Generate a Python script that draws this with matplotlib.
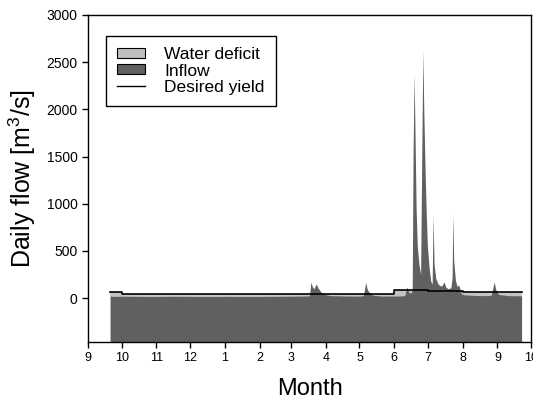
import numpy as np
import matplotlib
matplotlib.use('Agg')
import matplotlib.pyplot as plt
from matplotlib.patches import Patch
from matplotlib.lines import Line2D

plt.rcParams['font.family'] = ['Liberation Sans', 'DejaVu Sans']
plt.rcParams['mathtext.fontset'] = 'custom'
plt.rcParams['mathtext.rm'] = 'Liberation Sans'
plt.rcParams['mathtext.it'] = 'Liberation Sans:italic'

# x axis is in days counted from 1 Sep
month_days = [0, 30, 61, 91, 122, 153, 181, 212, 242, 273, 303, 334, 365, 395]
month_labels = ['9', '10', '11', '12', '1', '2', '3', '4', '5', '6', '7', '8', '9', '10']

# daily inflow (breakpoints)
inflow_day = [20, 22, 30, 45, 60, 75, 90, 105, 122, 140, 160, 181, 196, 197.5,
              198.7, 200, 201.5, 203.5, 205, 208, 212, 216, 230, 242, 245.5, 247.5,
              249, 251, 254, 262, 273, 281, 282.5, 284.2, 286, 288, 289, 289.8,
              290.7, 291.5, 292.5, 293.5, 295, 296.5, 297.8, 298.5, 299.3, 300.5,
              301.5, 302.5, 304, 305.5, 306.8, 307.6, 308.5, 310, 312, 314, 315.5,
              317.4, 319, 321, 323.5, 324.6, 325.2, 326, 327.5, 329, 330.5, 331.7,
              333, 335, 345, 355, 359.5, 362, 363.5, 366, 375, 386.5]
inflow_q = [22, 18, 20, 18, 17, 19, 18, 17, 18, 17, 18, 20, 22, 26,
            172, 120, 100, 150, 110, 60, 36, 26, 22, 21, 26, 165,
            90, 55, 30, 22, 22, 24, 30, 118, 60, 50, 90, 1550,
            2380, 1750, 950, 560, 360, 250, 1850, 2630, 2000, 1350,
            900, 560, 330, 180, 150, 880, 360, 210, 150, 130, 130,
            172, 115, 100, 110, 220, 890, 400, 190, 125, 138, 90,
            45, 35, 28, 26, 30, 170, 90, 38, 26, 24]

# desired yield (step function)
yield_day = [20, 30, 273, 303, 334, 386.5]
yield_q = [64, 40, 88, 70, 63, 63]

fig = plt.figure(figsize=(5.33, 4.05), dpi=100)
ax = fig.add_axes([0.165, 0.1556, 0.8315, 0.8074])

ybot = -465
ax.fill_between(yield_day, -1000, yield_q, step='post', color='#c4c4c4', lw=0)
ax.fill_between(inflow_day, -1000, inflow_q, color='#606060', lw=0)
ax.step(yield_day, yield_q, where='post', color='black', lw=1.2)

ax.set_xlim(0, 395)
ax.set_ylim(ybot, 3000)
ax.set_xticks(month_days)
ax.set_xticklabels(month_labels)
ax.set_yticks(np.arange(0, 3001, 500))
ax.tick_params(direction='out', length=4, width=1, labelsize=9, colors='black')
ax.tick_params(axis='y', labelsize=10)
for s in ax.spines.values():
    s.set_linewidth(1)

ax.set_xlabel('Month', fontsize=17, labelpad=10)
ax.set_ylabel(r'Daily flow [m$^3$/s]', fontsize=18, labelpad=6)

handles = [Patch(facecolor='#c0c0c0', edgecolor='black', lw=0.8),
           Patch(facecolor='#606060', edgecolor='black', lw=0.8),
           Line2D([], [], color='black', lw=1)]
leg = ax.legend(handles, ['Water deficit', 'Inflow', 'Desired yield'],
                loc='upper left', bbox_to_anchor=(0.0406, 0.936), borderaxespad=0,
                fontsize=12.5, frameon=True, fancybox=False, shadow=False,
                edgecolor='black', framealpha=1, handlelength=1.6, handleheight=0.5,
                handletextpad=1.1, labelspacing=0.08, borderpad=0.65)
leg.get_frame().set_linewidth(1)

fig.savefig('out.png', dpi=100)
